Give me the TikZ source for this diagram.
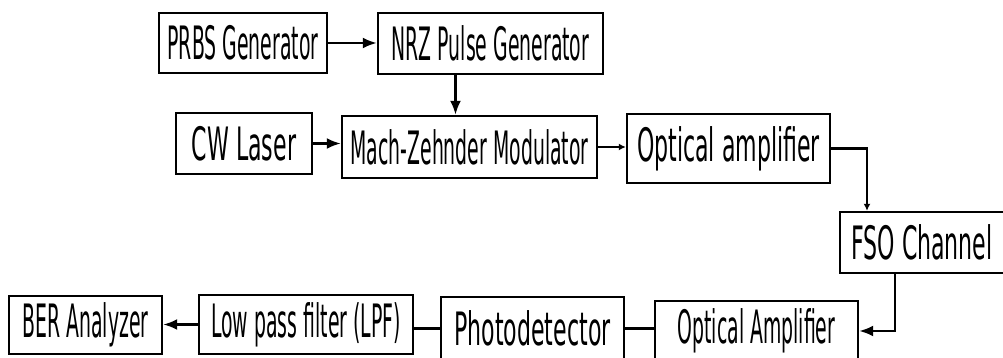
\documentclass[tikz,border=0pt]{standalone}
\usepackage{fontspec}
\setmainfont{DejaVu Sans}[FakeStretch=0.41]
\newfontfamily\widefont{DejaVu Sans}[FakeStretch=0.48]
\usetikzlibrary{arrows.meta, positioning, calc}
\tikzset{
    block/.style={rectangle, draw=black, line width=2.4pt, fill=white, inner sep=0pt, text centered, font=\fontsize{46}{50}\selectfont},
    wideblock/.style={block, font=\widefont\fontsize{46}{50}\selectfont},
    arrow/.style={line width=2.4pt, -{Latex[length=14pt,width=11pt]}},
    smallarrow/.style={line width=2.4pt, -{Latex[length=7pt,width=7pt]}},
    link/.style={line width=2.4pt}
}

\begin{document}
\begin{tikzpicture}[x=1pt, y=1pt]
    \useasboundingbox (0,0) rectangle (1003,358);
    \node (prbs) [block, minimum width=168pt, minimum height=60pt] at (243,315) {PRBS Generator};
    \node (nrz) [block, minimum width=225pt, minimum height=61pt] at (490.5,314.5) {NRZ Pulse Generator};
    \node (cw) [wideblock, minimum width=136pt, minimum height=61pt] at (244,214.5) {CW Laser};
    \node (mzm) [block, minimum width=255pt, minimum height=62pt] at (469.5,211) {Mach-Zehnder Modulator};
    \node (oa1) [wideblock, minimum width=203pt, minimum height=69pt] at (728.5,209.5) {Optical amplifier};
    \node (fso) [wideblock, minimum width=164pt, minimum height=61pt] at (922,115.5) {FSO Channel};
    \node (oa2) [block, minimum width=203pt, minimum height=60pt] at (756.5,27) {Optical Amplifier};
    \node (pd) [wideblock, minimum width=183pt, minimum height=63pt] at (532.5,29.5) {Photodetector};
    \node (lpf) [block, minimum width=214pt, minimum height=59pt] at (306,33.5) {Low pass filter (LPF)};
    \node (ber) [block, minimum width=153pt, minimum height=58pt] at (85.5,33) {BER Analyzer};

    \draw [arrow] (prbs.east) -- (prbs.east -| nrz.west);
    \draw [arrow] ([xshift=-35pt]nrz.south) -- ([xshift=-35pt]nrz.south |- mzm.north);
    \draw [arrow] (cw.east) -- (cw.east -| mzm.west);
    \draw [smallarrow] (mzm.east) -- (mzm.east -| oa1.west);
    \draw [smallarrow] (oa1.east) -| ([xshift=-55pt]fso.north);
    \draw [arrow] ([xshift=-27pt]fso.south) |- (oa2.east);
    \draw [link] (pd.east) -- (pd.east -| oa2.west);
    \draw [link] (pd.west) -- (pd.west -| lpf.east);
    \draw [arrow] (lpf.west) -- (lpf.west -| ber.east);
\end{tikzpicture}
\end{document}
